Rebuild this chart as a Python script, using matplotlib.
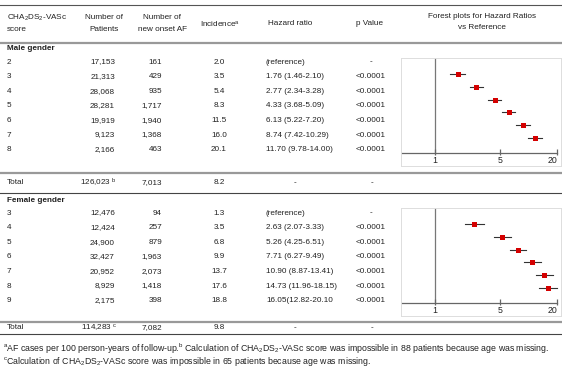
import matplotlib
matplotlib.use("Agg")
import matplotlib.pyplot as plt

plt.rcParams['font.family'] = ['Liberation Sans', 'DejaVu Sans']
plt.rcParams['mathtext.fontset'] = 'custom'
plt.rcParams['mathtext.rm'] = 'Liberation Sans'
plt.rcParams['mathtext.it'] = 'Liberation Sans:italic'
plt.rcParams['mathtext.bf'] = 'Liberation Sans:bold'

# data
male_scores = ['2', '3', '4', '5', '6', '7', '8']
male_patients = [17153, 21313, 28068, 28281, 19919, 9123, 2166]
male_af = [161, 429, 935, 1717, 1940, 1368, 463]
male_incidence = [2.0, 3.5, 5.4, 8.3, 11.5, 16.0, 20.1]
male_hr_text = ['(reference)', '1.76 (1.46-2.10)', '2.77 (2.34-3.28)', '4.33 (3.68-5.09)',
                '6.13 (5.22-7.20)', '8.74 (7.42-10.29)', '11.70 (9.78-14.00)']
male_hr = [1.76, 2.77, 4.33, 6.13, 8.74, 11.70]
male_lo = [1.46, 2.34, 3.68, 5.22, 7.42, 9.78]
male_hi = [2.10, 3.28, 5.09, 7.20, 10.29, 14.00]
male_total = ['126,023 $^{\\mathrm{b}}$', '7,013', '8.2']

female_scores = ['3', '4', '5', '6', '7', '8', '9']
female_patients = [12476, 12424, 24900, 32427, 20952, 8929, 2175]
female_af = [94, 257, 879, 1963, 2073, 1418, 398]
female_incidence = [1.3, 3.5, 6.8, 9.9, 13.7, 17.6, 18.8]
female_hr_text = ['(reference)', '2.63 (2.07-3.33)', '5.26 (4.25-6.51)', '7.71 (6.27-9.49)',
                  '10.90 (8.87-13.41)', '14.73 (11.96-18.15)', '16.05(12.82-20.10']
female_hr = [2.63, 5.26, 7.71, 10.90, 14.73, 16.05]
female_lo = [2.07, 4.25, 6.27, 8.87, 11.96, 12.82]
female_hi = [3.33, 6.51, 9.49, 13.41, 18.15, 20.10]
female_total = ['114,283 $^{\\mathrm{c}}$', '7,082', '9.8']

forest_ticks = [1, 5, 20]

FS = 5.9
TXT = '#222222'
W, H = 562, 374

fig = plt.figure(figsize=(W / 100, H / 100), dpi=100)
ax = fig.add_axes([0, 0, 1, 1])
ax.set_xlim(0, W)
ax.set_ylim(H, 0)
ax.axis('off')


def t(x, y, s, ha='left', fs=FS, **kw):
    ax.text(x, y, s, ha=ha, va='center', fontsize=fs, color=TXT, **kw)


# header
t(7, 17.5, 'CHA$_2$DS$_2$-VASc')
t(7, 29, 'score')
t(104, 17.5, 'Number of', ha='center')
t(104, 29, 'Patients', ha='center')
t(162, 17.5, 'Number of', ha='center')
t(162, 29, 'new onset AF', ha='center')
t(220, 23.5, 'Incidence$^{\\mathrm{a}}$', ha='center')
t(290, 23.5, 'Hazard ratio', ha='center')
t(370, 23.5, 'p Value', ha='center')
t(482, 16, 'Forest plots for Hazard Ratios', ha='center')
t(482, 27, 'vs Reference', ha='center')

# rules
ax.plot([0, W], [5, 5], color='#555555', lw=0.8)
for y in [42.5, 172.5, 322]:
    ax.plot([0, W], [y, y], color='#999999', lw=1.6)
for y in [192.5, 334]:
    ax.plot([0, W], [y, y], color='#444444', lw=0.8)


def section(y0, title, scores, patients, af, inc, hr_text, total, y_title, y_total):
    t(7, y_title, title, fontweight='bold')
    for i in range(len(scores)):
        y = y0 + 14.6 * i
        t(7, y, scores[i])
        t(115, y, f'{patients[i]:,}', ha='right')
        t(162, y, f'{af[i]:,}', ha='right')
        t(219, y, f'{inc[i]:.1f}', ha='center')
        t(266, y, hr_text[i])
        t(371, y, '-' if i == 0 else '<0.0001', ha='center')
    t(7, y_total, 'Total')
    t(117, y_total, total[0], ha='right')
    t(162, y_total, total[1], ha='right')
    t(219, y_total, total[2], ha='center')
    t(295, y_total, '-', ha='center')
    t(372, y_total, '-', ha='center')


section(62, 'Male gender', male_scores, male_patients, male_af, male_incidence,
        male_hr_text, male_total, 48, 182.5)
section(213, 'Female gender', female_scores, female_patients, female_af, female_incidence,
        female_hr_text, female_total, 200, 327.5)


def forest(top, hr, lo, hi):
    fa = fig.add_axes([401 / W, 1 - (top + 108) / H, 160 / W, 108 / H])
    fa.set_xscale('log')
    fa.set_xlim(0.433, 22.2)
    fa.set_ylim(8.23, -0.276)
    for s in fa.spines.values():
        s.set_color('#dddddd')
        s.set_linewidth(0.7)
    fa.set_xticks([])
    fa.set_yticks([])
    fa.minorticks_off()
    ya = 7.18
    fa.plot([1, 1], [-0.276, ya], color='#777777', lw=0.9)
    fa.plot([0.433, forest_ticks[-1]], [ya, ya], color='#666666', lw=0.9)
    fa.plot(forest_ticks, [ya - 0.08] * len(forest_ticks), ls='none', marker='|',
            markersize=5, markeredgewidth=0.9, color='#666666')
    for k, v in enumerate(forest_ticks):
        ha = 'right' if k == len(forest_ticks) - 1 else 'center'
        fa.text(v * (1.02 if ha == 'right' else 1), 7.8, str(v), ha=ha, va='center',
                fontsize=6.3, color=TXT)
    rows = range(1, len(hr) + 1)
    for r, h, l, u in zip(rows, hr, lo, hi):
        fa.plot([l, u], [r, r], color='#333333', lw=0.8)
    fa.plot(hr, list(rows), ls='none', marker='s', markersize=3.6,
            color='#d40000', markeredgewidth=0)


forest(58, male_hr, male_lo, male_hi)
forest(208, female_hr, female_lo, female_hi)

# footnotes
t(3, 349, '$^{\\mathrm{a}}$AF cases per 100 person-years of follow-up.$^{\\mathrm{b}}$ Calculation of '
  'CHA$_2$DS$_2$-VASc score was impossible in 88 patients because age was missing.', fs=6.3)
t(3, 362, '$^{\\mathrm{c}}$Calculation of CHA$_2$DS$_2$-VASc score was impossible in 65 patients '
  'because age was missing.', fs=6.3)

fig.savefig('out.png', dpi=100)
